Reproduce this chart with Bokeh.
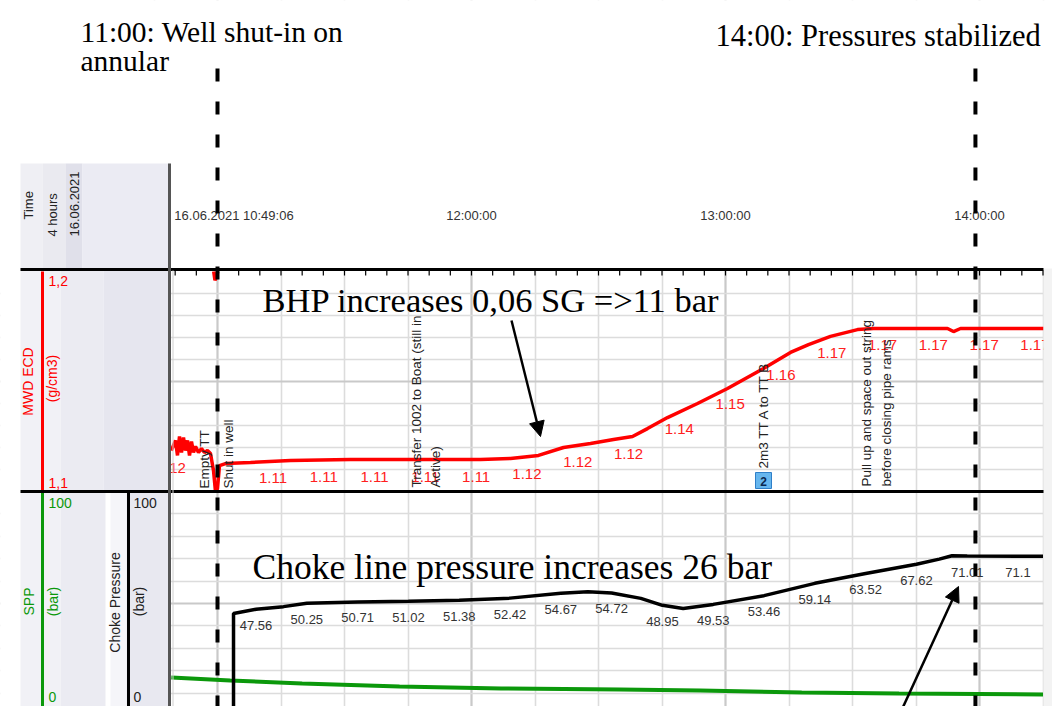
import numpy as np
from bokeh.plotting import figure
from bokeh.models import Range1d, Grid, FixedTicker, Arrow, NormalHead
from bokeh.core.properties import value
from bokeh.embed import file_html
from bokeh.resources import INLINE


def hrs(s):
    parts = [int(v) for v in s.split(":")]
    while len(parts) < 3:
        parts.append(0)
    return parts[0] + parts[1] / 60 + parts[2] / 3600


# ---------------- data ----------------
start_time = "10:49:06"
hour_ticks = [12, 13, 14]
hour_labels = ["12:00:00", "13:00:00", "14:00:00"]

ecd_hours = [10.8183, 10.8346, 10.8425, 10.8504, 10.8583, 10.8661, 10.8740, 10.8819, 10.8898,
             10.8976, 10.9055, 10.9134, 10.9252, 10.9370, 10.9488, 10.9606, 10.9724, 10.9843,
             10.9921, 11.0000, 11.0079, 11.0315, 11.1299, 11.2874, 11.5236, 11.7992, 12.0354,
             12.1535, 12.2638, 12.3622, 12.4685, 12.5591, 12.6339, 12.6929, 12.7717, 12.8898,
             13.0079, 13.1496, 13.2559, 13.3268, 13.4134, 13.5197, 13.5827, 13.8740, 13.8976,
             13.9252, 14.2520]
ecd_values = [1.1186, 1.1232, 1.1164, 1.1250, 1.1177, 1.1245, 1.1186, 1.1232, 1.1164,
              1.1227, 1.1177, 1.1205, 1.1177, 1.1195, 1.1177, 1.1186, 1.1173, 1.1095,
              1.1000, 1.1014, 1.1118, 1.1127, 1.1132, 1.1141, 1.1145, 1.1145, 1.1145,
              1.1150, 1.1164, 1.1200, 1.1218, 1.1236, 1.1250, 1.1286, 1.1336, 1.1400,
              1.1468, 1.1559, 1.1632, 1.1668, 1.1705, 1.1736, 1.1741, 1.1741, 1.1727,
              1.1741, 1.1741]
ecd_wrap_hours = [10.9850, 10.9900, 10.9960, 11.0010]
ecd_wrap_values = [1.2000, 1.1960, 1.1975, 1.2000]

ecd_label_times = ["10:49:06", "11:13:06", "11:25:06", "11:37:06", "11:49:06", "12:01:06",
                   "12:13:06", "12:25:06", "12:37:06", "12:49:06", "13:01:06", "13:13:06",
                   "13:25:06", "13:37:06", "13:49:06", "14:01:06", "14:13:06"]
ecd_label_texts = ["1.12", "1.11", "1.11", "1.11", "1.11", "1.11", "1.12", "1.12", "1.12",
                   "1.14", "1.15", "1.16", "1.17", "1.17", "1.17", "1.17", "1.17"]

choke_times = ["11:03:47", "11:03:47", "11:09:06", "11:15:35", "11:21:06", "11:33:06",
               "11:45:06", "11:57:06", "12:09:06", "12:21:06", "12:27:30", "12:33:06",
               "12:40:00", "12:45:06", "12:50:00", "12:57:06", "13:09:06", "13:21:06",
               "13:33:06", "13:45:06", "13:50:30", "13:53:30", "13:57:06", "14:09:06",
               "14:15:00"]
choke_values = [0.0, 45.5, 47.4, 48.6, 50.1, 50.7, 51.0, 51.4, 52.4, 54.6, 55.2, 54.7,
                52.3, 49.2, 47.8, 49.6, 53.5, 59.0, 63.4, 67.5, 69.8, 71.3, 71.2, 71.1, 71.1]

choke_label_times = ["11:09:06", "11:21:06", "11:33:06", "11:45:06", "11:57:06", "12:09:06",
                     "12:21:06", "12:33:06", "12:45:06", "12:57:06", "13:09:06", "13:21:06",
                     "13:33:06", "13:45:06", "13:57:06", "14:09:06"]
choke_label_texts = ["47.56", "50.25", "50.71", "51.02", "51.38", "52.42", "54.67", "54.72",
                     "48.95", "49.53", "53.46", "59.14", "63.52", "67.62", "71.01", "71.1"]

spp_times = ["10:49:06", "11:03:00", "11:20:00", "11:43:00", "12:07:00", "12:35:00",
             "12:54:00", "13:18:00", "13:41:00", "14:15:00"]
spp_values = [17.0, 15.6, 14.3, 12.9, 12.1, 11.6, 11.2, 10.3, 9.8, 9.4]

event_hours = [10.9488, 11.0433, 11.8209, 13.1496, 13.5945]
event_texts = ["Empty TT", "Shut in well", "Transfer 1002 to Boat (still in\nActive)",
               "2m3 TT A to TT B", "Pull up and space out string\nbefore closing pipe rams"]
marker_hours = [11.0, 13.984]   # dashed annotation lines

# ---------------- figure ----------------
W, H = 1052, 706
PX_PER_H = 254.0
x_start = 12 - 471 / PX_PER_H
x_end = 12 + (W - 471) / PX_PER_H

p = figure(width=W, height=H, output_backend="svg", toolbar_location=None,
           x_range=Range1d(x_start, x_end), y_range=Range1d(H, 0),
           x_axis_type=None, y_axis_type=None, min_border=0,
           background_fill_color="white", border_fill_color="white")
p.outline_line_color = None
p.extra_x_ranges = {"px": Range1d(0, W)}
p.extra_y_ranges = {"ecd": Range1d(1.1 - (H - 491) / 2200, 1.2 + 271 / 2200),
                    "bar": Range1d((715 - H) / 2.24, 715 / 2.24)}

SANS = value("Liberation Sans")
SERIF = value("Liberation Serif")

# grids
quarters = [10.75 + 0.25 * k for k in range(15)]
p.add_layout(Grid(dimension=0, ticker=FixedTicker(ticks=[q for q in quarters if q % 1 != 0]),
                  grid_line_color="#dcdcdc", grid_line_width=1.6, level="underlay"), "center")
p.add_layout(Grid(dimension=0, ticker=FixedTicker(ticks=[11, 12, 13, 14]),
                  grid_line_color="#c9c9c9", grid_line_width=2.2, level="underlay"), "center")
ecd_ticks = [round(1.1 + 0.01 * k, 2) for k in range(1, 10)]
p.add_layout(Grid(dimension=1, y_range_name="ecd", ticker=FixedTicker(ticks=[t for t in ecd_ticks if t != 1.15]),
                  grid_line_color="#dcdcdc", grid_line_width=1.6, level="underlay"), "center")
p.add_layout(Grid(dimension=1, y_range_name="ecd", ticker=FixedTicker(ticks=[1.15]),
                  grid_line_color="#c9c9c9", grid_line_width=2.2, level="underlay"), "center")
bar_ticks = [10 * k for k in range(1, 10)]
p.add_layout(Grid(dimension=1, y_range_name="bar", ticker=FixedTicker(ticks=[t for t in bar_ticks if t != 50]),
                  grid_line_color="#dcdcdc", grid_line_width=1.6, level="underlay"), "center")
p.add_layout(Grid(dimension=1, y_range_name="bar", ticker=FixedTicker(ticks=[50]),
                  grid_line_color="#c9c9c9", grid_line_width=2.2, level="underlay"), "center")

# white header cover
p.quad(left=[0], right=[W], top=[0], bottom=[270], x_range_name="px",
       fill_color="white", line_color=None)

# curves
spp_h = [hrs(t) for t in spp_times]
p.line(spp_h, spp_values, y_range_name="bar", line_color="#0b980b", line_width=4)
choke_h = [hrs(t) for t in choke_times]
p.line(choke_h, choke_values, y_range_name="bar", line_color="black", line_width=3.5)
p.line(ecd_hours, ecd_values, y_range_name="ecd", line_color="#ff0000", line_width=3.5)
p.line(ecd_wrap_hours, ecd_wrap_values, y_range_name="ecd", line_color="#ff0000", line_width=3.5)

# value labels along curves
ecd_lab_h = [hrs(t) for t in ecd_label_times]
ecd_lab_y = np.interp(ecd_lab_h, ecd_hours, ecd_values)
p.text(ecd_lab_h, ecd_lab_y, text=ecd_label_texts, y_range_name="ecd", y_offset=17,
       text_align="center", text_baseline="middle", text_font=SANS,
       text_font_size="15px", text_color="#ff2020")
ch_lab_h = [hrs(t) for t in choke_label_times]
ch_lab_y = np.interp(ch_lab_h, choke_h[1:], choke_values[1:])
p.text(ch_lab_h, ch_lab_y, text=choke_label_texts, y_range_name="bar", y_offset=16,
       text_align="center", text_baseline="middle", text_font=SANS,
       text_font_size="13px", text_color="#333333")

# event comments
ev_bottom = [488, 488, 487, 468, 486]
p.text(event_hours, ev_bottom, text=event_texts, angle=np.pi / 2,
       text_align="left", text_baseline="middle", text_font=SANS,
       text_font_size="13.5px", text_color="#222222", text_line_height=1.3)
p.quad(left=[755], right=[771], top=[472], bottom=[488], x_range_name="px",
       fill_color="#66b6ee", line_color="#2f7fc8", line_width=1)
p.text([763], [480.5], text=["2"], x_range_name="px", text_align="center",
       text_baseline="middle", text_font=SANS, text_font_size="12px",
       text_font_style="bold", text_color="#0b2850")

# left panels and right strip
p.quad(left=[0], right=[170], top=[160], bottom=[H], x_range_name="px",
       fill_color="white", line_color=None)
p.quad(left=[20, 42, 65, 82], right=[42, 65, 82, 168], top=[163] * 4, bottom=[268] * 4,
       x_range_name="px", fill_color=["#efeff4", "#eaeaf0", "#e0e0ea", "#ebebf3"], line_color=None)
p.quad(left=[20, 60, 103], right=[60, 103, 168], top=[270] * 3, bottom=[490] * 3,
       x_range_name="px", fill_color=["#f1f1f6", "#ebebf2", "#e6e6ef"], line_color=None)
p.quad(left=[20, 60, 110, 126], right=[60, 105, 126, 168], top=[492] * 4, bottom=[H] * 4,
       x_range_name="px", fill_color=["#f1f1f6", "#ebebf2", "#f5f5f9", "#e8e8f0"], line_color=None)
p.quad(left=[1043], right=[W], top=[268], bottom=[H], x_range_name="px",
       fill_color="#f3f3f3", line_color=None)

# panel scale lines
p.segment(x0=[42, 42, 128], y0=[271, 491, 491], x1=[42, 42, 128], y1=[491, H, H],
          x_range_name="px", line_color=["#ff0000", "#0b980b", "black"], line_width=3)
# dividers and frame line
p.segment(x0=[20, 20], y0=[269, 491], x1=[1043, 1043], y1=[269, 491], x_range_name="px",
          line_color="black", line_width=3)
p.segment(x0=[169], y0=[163], x1=[169], y1=[H], x_range_name="px",
          line_color="#555555", line_width=3)
p.segment(x0=[172.5], y0=[270], x1=[172.5], y1=[H], x_range_name="px",
          line_color="#d0d0d0", line_width=1)

# header time ticks
tick_h = list(np.arange(10 + 50 / 60, 14.26, 5 / 60))
p.segment(x0=tick_h, y0=[270] * len(tick_h), x1=tick_h, y1=[275] * len(tick_h),
          line_color="black", line_width=1.2)

# panel texts (rotated)
p.text([28, 52, 74], [219, 236, 236], text=["Time", "4 hours", "16.06.2021"], x_range_name="px",
       angle=np.pi / 2, text_align="left", text_baseline="middle", text_font=SANS,
       text_font_size="13px", text_color="#222222")
p.text([27, 51], [381, 378], text=["MWD ECD", "(g/cm3)"], x_range_name="px",
       angle=np.pi / 2, text_align="center", text_baseline="middle", text_font=SANS,
       text_font_size="14px", text_color="#ff0000")
p.text([28, 52], [601, 601], text=["SPP", "(bar)"], x_range_name="px",
       angle=np.pi / 2, text_align="center", text_baseline="middle", text_font=SANS,
       text_font_size="14px", text_color="#0b980b")
p.text([114, 138], [602, 601], text=["Choke Pressure", "(bar)"], x_range_name="px",
       angle=np.pi / 2, text_align="center", text_baseline="middle", text_font=SANS,
       text_font_size="14px", text_color="#222222")
p.text([48, 48], [280, 482], text=["1,2", "1,1"], x_range_name="px",
       text_align="left", text_baseline="middle", text_font=SANS,
       text_font_size="14px", text_color="#ff0000")
p.text([48, 48], [502, 696], text=["100", "0"], x_range_name="px",
       text_align="left", text_baseline="middle", text_font=SANS,
       text_font_size="14px", text_color="#0b980b")
p.text([133, 133], [502, 696], text=["100", "0"], x_range_name="px",
       text_align="left", text_baseline="middle", text_font=SANS,
       text_font_size="14px", text_color="#222222")

# header time labels
p.text(hour_ticks, [215] * 3, text=hour_labels, text_align="center", text_baseline="middle",
       text_font=SANS, text_font_size="13px", text_color="#333333")
p.text([hrs(start_time)], [215], text=["16.06.2021 10:49:06"], x_offset=3,
       text_align="left", text_baseline="middle", text_font=SANS,
       text_font_size="13px", text_color="#333333")

# dashed marker lines
p.segment(x0=marker_hours, y0=[68, 68], x1=marker_hours, y1=[H, H],
          line_color="black", line_width=4, line_dash="13 20")

# annotation texts
p.text([80, 80], [31, 60], text=["11:00: Well shut-in on", "annular"],
       x_range_name="px", text_align="left", text_baseline="alphabetic",
       text_font=SERIF, text_font_size="29.5px", text_color="black")
p.text([715], [35], text=["14:00: Pressures stabilized"],
       x_range_name="px", text_align="left", text_baseline="alphabetic",
       text_font=SERIF, text_font_size="30.5px", text_color="black")
p.text([262], [299], text=["BHP increases 0,06 SG =>11 bar"],
       x_range_name="px", text_align="left", text_baseline="alphabetic",
       text_font=SERIF, text_font_size="34.5px", text_color="black")
p.text([252], [566], text=["Choke line pressure increases 26 bar"],
       x_range_name="px", text_align="left", text_baseline="alphabetic",
       text_font=SERIF, text_font_size="35.5px", text_color="black")

# arrows
p.add_layout(Arrow(end=NormalHead(size=15, fill_color="black", line_color="black"),
                   x_start=511, y_start=320, x_end=540, y_end=436, x_range_name="px",
                   line_color="black", line_width=2.5))
p.add_layout(Arrow(end=NormalHead(size=15, fill_color="black", line_color="black"),
                   x_start=900, y_start=712, x_end=958, y_end=586, x_range_name="px",
                   line_color="black", line_width=2.5))

open("out.html", "w").write(file_html(p, INLINE))
